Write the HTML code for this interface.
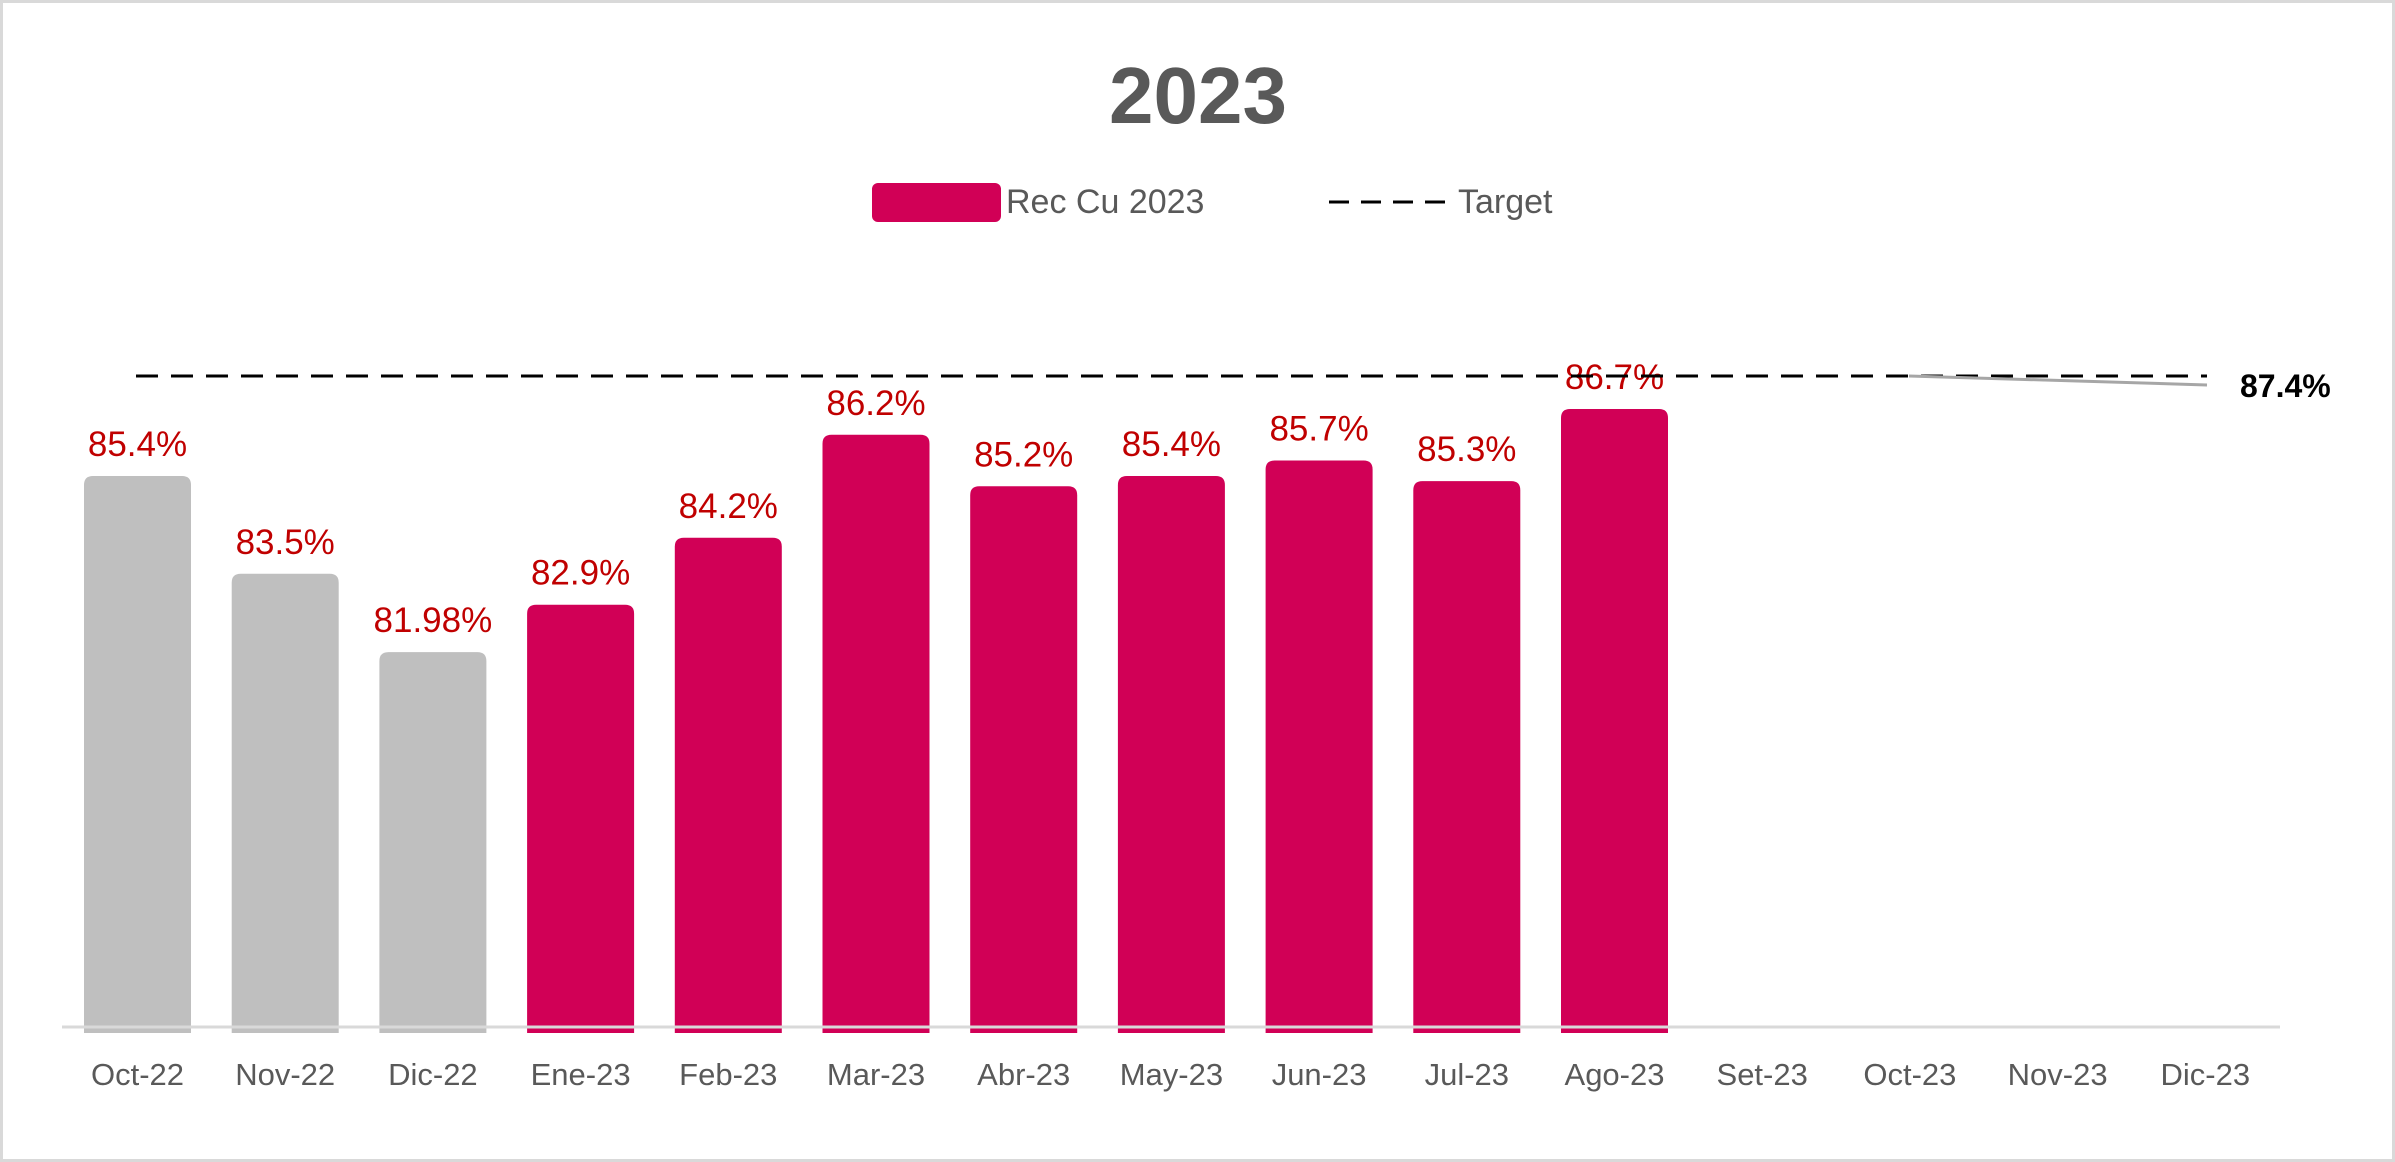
<!DOCTYPE html>
<html><head><meta charset="utf-8"><style>
html,body{margin:0;padding:0;background:#fff;}
svg{display:block;font-family:"Liberation Sans",sans-serif;}
</style></head><body>
<svg id="chart" width="2395" height="1162" viewBox="0 0 2395 1162" xmlns="http://www.w3.org/2000/svg">
<rect x="1.5" y="1.5" width="2392" height="1159" fill="#fff" stroke="#d9d9d9" stroke-width="3"/>
<text x="1198" y="123" text-anchor="middle" font-size="80" font-weight="bold" fill="#595959">2023</text>
<g>
<rect x="872" y="183" width="129" height="39" rx="6" fill="#d10056"/>
<text x="1006" y="213" font-size="34" fill="#595959">Rec Cu 2023</text>
<line x1="1329" y1="202" x2="1445" y2="202" stroke="#000" stroke-width="3" stroke-dasharray="20,12"/>
<text x="1458" y="213" font-size="34" fill="#595959">Target</text>
</g>
<g id="bars"></g>
<line x1="62" y1="1027" x2="2280" y2="1027" stroke="#d9d9d9" stroke-width="3"/>
<g id="xlabels"></g>
<g id="target"></g>
</svg>
<script>
const categories=["Oct-22","Nov-22","Dic-22","Ene-23","Feb-23","Mar-23","Abr-23","May-23","Jun-23","Jul-23","Ago-23","Set-23","Oct-23","Nov-23","Dic-23"];
const values=[85.4,83.5,81.98,82.9,84.2,86.2,85.2,85.4,85.7,85.3,86.7,null,null,null,null];
const valueLabels=["85.4%","83.5%","81.98%","82.9%","84.2%","86.2%","85.2%","85.4%","85.7%","85.3%","86.7%","","","",""];
const isPrior=[true,true,true,false,false,false,false,false,false,false,false,false,false,false,false];
const targetValue=87.4;
const targetLabel="87.4%";

const NS="http://www.w3.org/2000/svg";
const baseY=1027, vMin=74.7, pxPer=51.5;
const x0=84, step=147.7, bw=107;
function y(v){return baseY-(v-vMin)*pxPer;}
function xs(i){return x0+i*step;}
function mk(tag,attrs,parent){const e=document.createElementNS(NS,tag);for(const k in attrs)e.setAttribute(k,attrs[k]);parent.appendChild(e);return e;}
const gb=document.getElementById('bars'), gx=document.getElementById('xlabels'), gt=document.getElementById('target');
categories.forEach((c,i)=>{
  const cx=xs(i)+bw/2;
  const lab=mk('text',{x:cx,y:1085,'text-anchor':'middle','font-size':31,fill:'#595959'},gx);
  lab.textContent=c;
  
  
  const v=values[i];
  if(v==null)return;
  const top=y(v), r=9;
  const x=xs(i);
  const p=mk('path',{d:`M${x},${baseY+6} L${x},${top+r} Q${x},${top} ${x+r},${top} L${x+bw-r},${top} Q${x+bw},${top} ${x+bw},${top+r} L${x+bw},${baseY+6} Z`,fill:isPrior[i]?'#bfbfbf':'#d10056'},gb);
  
  
  const t=mk('text',{x:cx,y:top-20,'text-anchor':'middle','font-size':35,fill:'#c00000'},gb);
  t.textContent=valueLabels[i];
  
  
});
const ty=y(targetValue)+3;
const tl=mk('line',{x1:136,y1:ty,x2:2207,y2:ty,stroke:'#000','stroke-width':3,'stroke-dasharray':'22,13'},gt);


const ld=mk('line',{x1:1909,y1:ty,x2:2207,y2:ty+9,stroke:'#a6a6a6','stroke-width':3},gt);


const tt=mk('text',{x:2240,y:ty+21,'font-size':32,'font-weight':'bold',fill:'#000'},gt);
tt.textContent=targetLabel;


</script>
</body></html>
